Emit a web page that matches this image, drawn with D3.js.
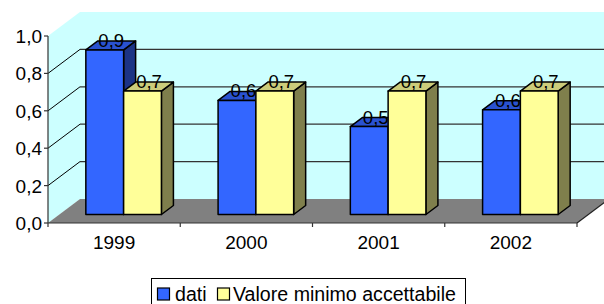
<!DOCTYPE html>
<html><head><meta charset="utf-8">
<script src="https://cdn.jsdelivr.net/npm/d3@7"></script>
<style>body{margin:0;background:#fff;overflow:hidden} text{font-family:Arial,"Liberation Sans",sans-serif;fill:#000}</style>
</head><body><svg id="c" width="604" height="304"></svg>
<script>
const categories = ["1999","2000","2001","2002"];
const seriesNames = ["dati","Valore minimo accettabile"];
const dati = [0.88,0.61,0.47,0.56];
const valoreMinimo = [0.66,0.66,0.66,0.66];
const yTicks = [0,0.2,0.4,0.6,0.8,1.0];

const seriesValues = [dati, valoreMinimo];
const colors = [
  {front:"#3366FF", top:"#2A52D0", side:"#1C3385"},
  {front:"#FFFF99", top:"#CCCC7A", side:"#7F7F4C"}
];
const svg = d3.select("#c");
const X0=48, X1=577, Y0=223, Y1=36, DX=32, DY=-24;
const BFX=9.5, BFY=-8.5, BDX=12, BDY=-9;
const x0 = d3.scaleBand().domain(categories).range([X0,X1]).padding(0);
const x1 = d3.scaleBand().domain(seriesNames).range([0,x0.bandwidth()]).paddingInner(0).paddingOuter(0.75);
const y = d3.scaleLinear().domain([0,1]).range([Y0,Y1]);
const fmt = v => d3.format(".1f")(v).replace(".",",");
const poly = pts => "M"+pts.map(p=>p.join(",")).join("L")+"Z";

// walls
svg.append("path").attr("d",poly([[X0+DX,Y1+DY],[X1+DX,Y1+DY],[X1+DX,Y0+DY],[X0+DX,Y0+DY]])).attr("fill","#CCFFFF");
svg.append("path").attr("d",poly([[X0,Y1],[X0+DX,Y1+DY],[X0+DX,Y0+DY],[X0,Y0]])).attr("fill","#CCFFFF");
// gridlines
const inner = yTicks.filter(t=>t>0 && t<1);
svg.selectAll(".g").data(inner).enter().append("line")
  .attr("x1",X0+DX).attr("x2",X1+DX).attr("y1",d=>y(d)+DY).attr("y2",d=>y(d)+DY)
  .attr("stroke","#333").attr("stroke-width",1.2);
svg.selectAll(".dg").data(inner).enter().append("line")
  .attr("x1",X0).attr("x2",X0+DX).attr("y1",d=>y(d)).attr("y2",d=>y(d)+DY)
  .attr("stroke","#000").attr("stroke-width",1);
// floor
svg.append("path").attr("d",poly([[X0,Y0],[X0+DX,Y0+DY],[X1+DX,Y0+DY],[X1,Y0]])).attr("fill","#808080");
svg.append("line").attr("x1",X1).attr("y1",Y0).attr("x2",X1+DX).attr("y2",Y0+DY).attr("stroke","#222").attr("stroke-width",1.2);
// axes
svg.append("line").attr("x1",X0).attr("x2",X0).attr("y1",Y1).attr("y2",Y0).attr("stroke","#333").attr("stroke-width",1.2);
svg.selectAll(".yt").data(yTicks).enter().append("line")
  .attr("x1",X0-4).attr("x2",X0).attr("y1",d=>y(d)).attr("y2",d=>y(d)).attr("stroke","#333").attr("stroke-width",1.2);
svg.selectAll(".yl").data(yTicks).enter().append("text")
  .attr("x",42).attr("y",d=>y(d)+7).attr("text-anchor","end").attr("font-size",19).text(fmt);
svg.append("line").attr("x1",X0).attr("x2",X1).attr("y1",Y0).attr("y2",Y0).attr("stroke","#333").attr("stroke-width",1.2);
const edges = categories.map(c=>x0(c)).concat([X1]);
svg.selectAll(".xt").data(edges).enter().append("line")
  .attr("x1",d=>d).attr("x2",d=>d).attr("y1",Y0).attr("y2",Y0+4).attr("stroke","#333").attr("stroke-width",1.2);
svg.selectAll(".xl").data(categories).enter().append("text")
  .attr("x",d=>x0(d)+x0.bandwidth()/2).attr("y",249).attr("text-anchor","middle").attr("font-size",19).text(d=>d);

// bars
const bw = x1.bandwidth();
categories.forEach((c,i)=>{
  seriesNames.forEach((s,j)=>{
    const v = seriesValues[j][i];
    const xl = x0(c)+x1(s)+BFX, xr = xl+bw;
    const yt = y(v)+BFY, yb = y(0)+BFY;
    const col = colors[j];
    const g = svg.append("g").attr("stroke","#000").attr("stroke-width",1.5).attr("stroke-linejoin","round");
    g.append("path").attr("d",poly([[xr,yt],[xr+BDX,yt+BDY],[xr+BDX,yb+BDY],[xr,yb]])).attr("fill",col.side);
    g.append("path").attr("d",poly([[xl,yt],[xl+BDX,yt+BDY],[xr+BDX,yt+BDY],[xr,yt]])).attr("fill",col.top);
    g.append("path").attr("d",poly([[xl,yt],[xr,yt],[xr,yb],[xl,yb]])).attr("fill",col.front);
    svg.append("text").attr("x",(xl+xr)/2+6.5).attr("y",yt-3).attr("text-anchor","middle")
      .attr("font-size",18.5).text(fmt(v));
  });
});

// legend
const lg = svg.append("g");
lg.append("rect").attr("x",151.5).attr("y",278.5).attr("width",314).attr("height",30).attr("fill","#fff").attr("stroke","#000").attr("stroke-width",1);
const lx = [157.5, 217.5];
const tx = [175, 233];
seriesNames.forEach((s,j)=>{
  lg.append("rect").attr("x",lx[j]).attr("y",288).attr("width",12).attr("height",12).attr("fill",colors[j].front).attr("stroke","#000").attr("stroke-width",1.2);
  lg.append("text").attr("x",tx[j]).attr("y",300.5).attr("font-size",19.6).text(s);
});
</script></body></html>
